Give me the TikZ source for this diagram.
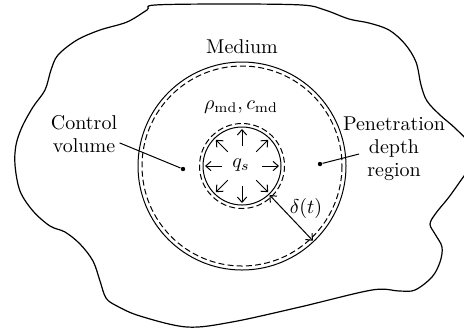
\documentclass[tikz,border=0pt]{standalone}
\usetikzlibrary{arrows.meta, calc}
\tikzset{
  every picture/.style={line width=0.5pt},
  lbl/.style={align=center, inner sep=1pt, font=\fontsize{10}{11.5}\selectfont},
  ring/.style={draw=black},
  dashring/.style={draw=black, dash pattern=on 3pt off 1.6pt},
  arrow/.style={-{Straight Barb[length=2.6pt, width=4.6pt]}},
  dot/.style={circle, fill=black, inner sep=0pt, minimum size=2.2pt},
  blob/.style={draw=black, line width=0.6pt},
}
\begin{document}
\begin{tikzpicture}[x=0.5pt, y=-0.5pt]
  \useasboundingbox (0,0) rectangle (464,329);
  \clip (0,0) rectangle (464,329);
  \draw[blob] plot[smooth cycle, tension=0.55] coordinates {
    (155,5) (230,4) (302,5) (325,10) (349,19) (369,23) (389,30) (405,44) (416,62)
    (421,85) (427,101) (440,115) (455,128) (472,146) (476,160) (464,176) (449,197)
    (436,213) (430,224) (435,234) (442,247) (440,262) (432,277) (415,290) (399,291)
    (372,290) (300,307) (232,322) (187,327) (140,316) (117,306) (106,298) (100,281)
    (93,261) (80,244) (65,232) (50,226) (33,211) (20,191) (15,165) (16,145) (22,127)
    (33,107) (45,90) (51,70) (58,55) (77,40) (100,30) (127,22) (147,10)};
  \coordinate (c) at (242,166);
  \draw[ring] (c) circle[radius=104];
  \draw[dashring] (c) circle[radius=100];
  \draw[ring] (c) circle[radius=39];
  \draw[dashring] (c) circle[radius=42.5];
  \foreach \a in {0,45,...,315}
    \draw[arrow] ($(c)+(\a:20)$) -- ($(c)+(\a:37)$);
  \node[lbl] (qs) at (241,165) {$q_s$};
  \node[lbl] (medium) at (242,47) {Medium};
  \node[lbl] (props) at (241,107) {$\rho_{\mathrm{md}}, c_{\mathrm{md}}$};
  \node[lbl] (ctrl) at (84,134) {Control\\volume};
  \node[lbl] (pen) at (394,149) {Penetration\\depth\\region};
  \node[dot] (cvdot) at (183,169) {};
  \node[dot] (pddot) at (320,164) {};
  \coordinate (pdend) at (359,154);
  \draw (ctrl.-14) -- (cvdot);
  \draw (pddot) -- (pdend);
  \coordinate (din) at ($(c)+(46.5:40)$);
  \coordinate (dout) at ($(c)+(46.5:103)$);
  \draw[arrow, {Straight Barb[length=2.6pt, width=4.6pt]}-{Straight Barb[length=2.6pt, width=4.6pt]}] (din) -- (dout);
  \node[lbl] (delta) at (306,208) {$\delta(t)$};
\end{tikzpicture}
\end{document}
